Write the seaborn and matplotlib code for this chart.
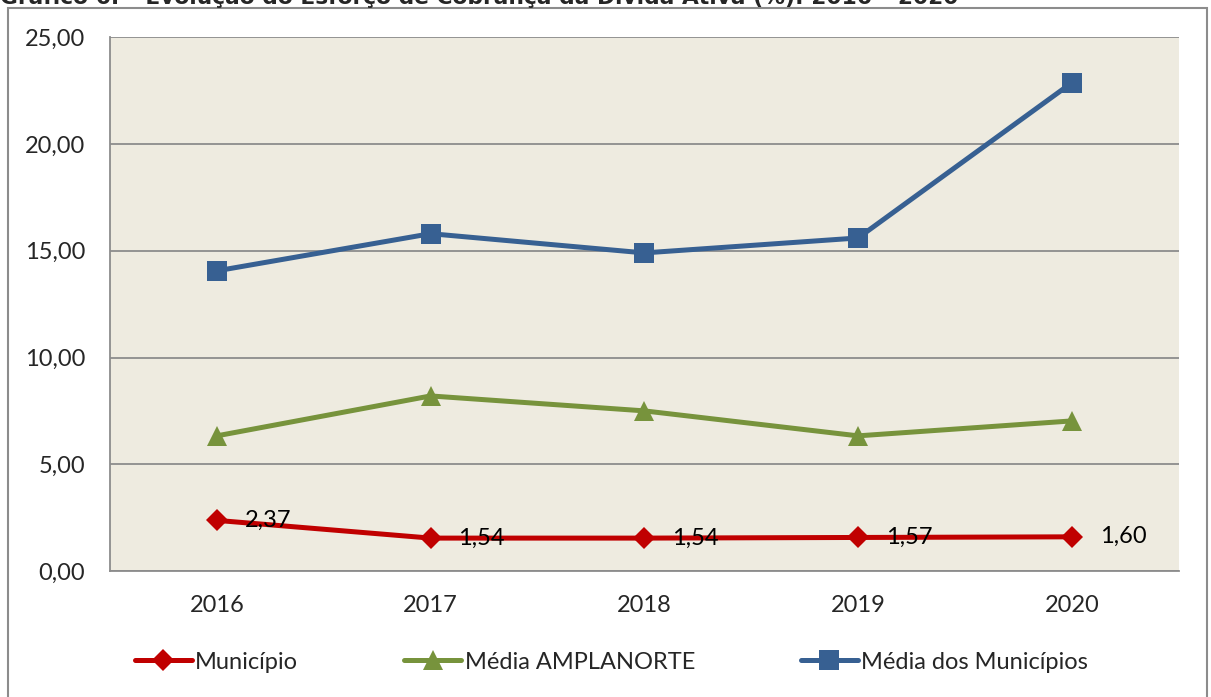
import pandas as pd
import matplotlib
matplotlib.use("Agg")
import matplotlib.pyplot as plt
import matplotlib.patches as patches
from matplotlib.ticker import FuncFormatter, FixedLocator
import seaborn as sns

years = ["2016", "2017", "2018", "2019", "2020"]
municipio = [2.37, 1.54, 1.54, 1.57, 1.60]
media_amplanorte = [6.33, 8.20, 7.50, 6.33, 7.03]
media_municipios = [14.06, 15.80, 14.90, 15.60, 22.87]
series_names = ["Município", "Média AMPLANORTE", "Média dos Municípios"]
title = "Gráfico 6: – Evolução do Esforço de Cobrança da Dívida Ativa (%): 2016 – 2020"

sns.set_style("white")
plt.rcParams['font.family'] = ['Lato', 'DejaVu Sans']

colors = ["#C00000", "#77933C", "#376092"]
markers = ["D", "^", "s"]
msizes = [11, 14, 14]

fig = plt.figure(figsize=(12.11, 6.97), dpi=100)
ax = fig.add_axes([0.0908, 0.1808, 0.8825, 0.7657])
ax.set_facecolor("#EEEBE0")

x = list(range(len(years)))
for name, vals, c, m, ms in zip(series_names, [municipio, media_amplanorte, media_municipios],
                                colors, markers, msizes):
    df = pd.DataFrame({"x": x, "y": vals})
    sns.lineplot(data=df, x="x", y="y", ax=ax, color=c, linewidth=3.6,
                 marker=m, markersize=ms, markeredgewidth=0, label=name)

# data labels for the municipality series
for xi, v in zip(x, municipio):
    ax.annotate(f"{v:.2f}".replace(".", ","), (xi, v), xytext=(20, 0),
                textcoords="offset points", va="center", ha="left", fontsize=17, color="black")

ax.set_xlim(-0.5, 4.5)
ax.set_ylim(0, 25)
ax.set_yticks([0, 5, 10, 15, 20, 25])
ax.yaxis.set_major_formatter(FuncFormatter(lambda v, p: f"{v:.2f}".replace(".", ",")))
ax.set_xticks(x)
ax.set_xticklabels(years)
ax.xaxis.set_minor_locator(FixedLocator([-0.5, 0.5, 1.5, 2.5, 3.5, 4.5]))
ax.tick_params(axis="x", which="major", length=0, pad=17, labelsize=17)
ax.tick_params(axis="x", which="minor", length=6, width=1.2, color="#8C8C8C", direction="out")
ax.tick_params(axis="y", length=5, width=1.2, color="#8C8C8C", pad=13, labelsize=17, direction="out")
ax.grid(axis="y", color="#8C8C8C", linewidth=1.3)
ax.set_axisbelow(True)
ax.set_xlabel("")
ax.set_ylabel("")
for s in ["top", "right"]:
    ax.spines[s].set_visible(False)
for s in ["left", "bottom"]:
    ax.spines[s].set_color("#8C8C8C")
    ax.spines[s].set_linewidth(1.3)

ax.legend(loc="center", bbox_to_anchor=(0.505, 0.05), bbox_transform=fig.transFigure,
          ncol=3, frameon=False, fontsize=17, handlelength=2.4, handletextpad=0.15,
          columnspacing=4.5)

# outer chart frame
fig.patches.append(patches.Rectangle((8 / 1211, -0.02), 1199 / 1211, (697 - 8) / 697 + 0.02,
                                     transform=fig.transFigure, fill=False,
                                     edgecolor="#8C8C8C", linewidth=1.5))
fig.text(0.0, 1 - 4 / 697, title, fontsize=15.7, fontweight="bold", va="baseline", ha="left",
         family=["DejaVu Sans"])

fig.savefig("out.png", dpi=100)
